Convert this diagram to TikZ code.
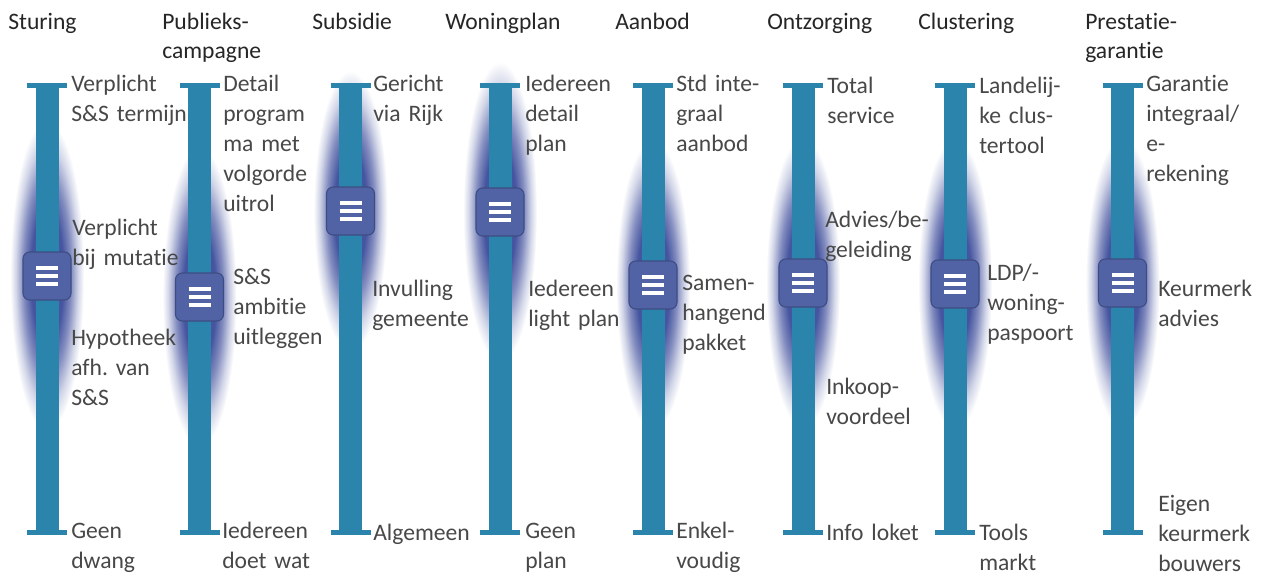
\documentclass[tikz,border=0pt]{standalone}
\usepackage{fontspec}
\setmainfont{Carlito}[Ligatures={NoCommon}]
\frenchspacing
\definecolor{barc}{RGB}{43,132,172}
\definecolor{knobc}{RGB}{81,99,165}
\definecolor{knobd}{RGB}{62,76,132}
\definecolor{glowc}{RGB}{70,85,160}
\definecolor{titlec}{RGB}{38,38,38}
\definecolor{lblc}{RGB}{72,72,72}
\pgfdeclareradialshading{glowshade}{\pgfpoint{0bp}{0bp}}{color(0bp)=(glowc); color(11bp)=(glowc); color(16bp)=(glowc!68!white); color(21bp)=(glowc!25!white); color(25bp)=(white); color(50bp)=(white)}
\tikzset{
  knob/.style={rectangle, rounded corners=5pt, minimum size=36pt, inner sep=0pt, fill=knobc, draw=knobd, line width=0.8pt},
  knobline/.style={draw=white, line width=2.4pt},
  ttl/.style={anchor=base west, inner sep=0pt, text width=115pt, align=left, text=titlec, font=\fontsize{17.7}{22}\selectfont},
  lbl/.style={anchor=base west, inner sep=0pt, text width=115pt, align=left, text=lblc, font=\fontsize{17.7}{22.5}\selectfont},
}
\newcommand\myslider[4]{%
  \shade[shading=glowshade] (#2,#3) ellipse [x radius=37, y radius=#4];
  \fill[barc] (#2-11.5,86) rectangle (#2+11.5,533);
  \fill[barc] (#2-20,83) rectangle (#2+20,88);
  \fill[barc] (#2-20,530) rectangle (#2+20,535);
  \node[knob] (#1) at (#2,#3) {};
  \foreach \dy in {-8,0,8} \draw[knobline] ([shift={(-11,\dy)}]#1.center) -- ([shift={(11,\dy)}]#1.center);
}
\begin{document}
\begin{tikzpicture}[x=0.75pt,y=-0.75pt]
\useasboundingbox (0,0) rectangle (1263,576);
\fill[white] (0,0) rectangle (1263,576);
% sliders
\myslider{k1}{47}{276}{155}
\myslider{k2}{199.5}{297}{150}
\myslider{k3}{350.5}{211}{140}
\myslider{k4}{500}{212}{150}
\myslider{k5}{653}{285}{145}
\myslider{k6}{803}{283}{145}
\myslider{k7}{955}{284}{145}
\myslider{k8}{1122.5}{283}{145}
% titles
\node[ttl] (t1) at (8,29) {Sturing};
\node[ttl] (t2) at (162,29) {Publieks-\\campagne};
\node[ttl] (t3) at (312,29) {Subsidie};
\node[ttl] (t4) at (445,29) {Woningplan};
\node[ttl] (t5) at (615,29) {Aanbod};
\node[ttl] (t6) at (767,29) {Ontzorging};
\node[ttl] (t7) at (918,29) {Clustering};
\node[ttl] (t8) at (1085,29) {Prestatie-\\garantie};
% labels slider 1
\node[lbl] (l1a) at (71,91) {Verplicht\\S\&S termijn};
\node[lbl] (l1b) at (72,235) {Verplicht\\bij mutatie};
\node[lbl] (l1c) at (71,345) {Hypotheek\\afh. van\\S\&S};
\node[lbl] (l1d) at (71,538) {Geen\\dwang};
% slider 2
\node[lbl] (l2a) at (223,91) {Detail\\program\\ma met\\volgorde\\uitrol};
\node[lbl] (l2b) at (233,284) {S\&S\\ambitie\\uitleggen};
\node[lbl] (l2c) at (222,538) {Iedereen\\doet wat};
% slider 3
\node[lbl] (l3a) at (373,91) {Gericht\\via Rijk};
\node[lbl] (l3b) at (372,296) {Invulling\\gemeente};
\node[lbl] (l3c) at (373,540) {Algemeen};
% slider 4
\node[lbl] (l4a) at (525,91) {Iedereen\\detail\\plan};
\node[lbl] (l4b) at (528,296) {Iedereen\\light plan};
\node[lbl] (l4c) at (525,538) {Geen\\plan};
% slider 5
\node[lbl] (l5a) at (676,91) {Std inte-\\graal\\aanbod};
\node[lbl] (l5b) at (682,290) {Samen-\\hangend\\pakket};
\node[lbl] (l5c) at (676,538) {Enkel-\\voudig};
% slider 6
\node[lbl] (l6a) at (827,93) {Total\\service};
\node[lbl] (l6b) at (825,227) {Advies/be-\\geleiding};
\node[lbl] (l6c) at (826,394) {Inkoop-\\voordeel};
\node[lbl] (l6d) at (826,540) {Info loket};
% slider 7
\node[lbl] (l7a) at (979,93) {Landelij-\\ke clus-\\tertool};
\node[lbl] (l7b) at (987,280) {LDP/-\\woning-\\paspoort};
\node[lbl] (l7c) at (979,540) {Tools\\markt};
% slider 8
\node[lbl] (l8a) at (1146,91) {Garantie\\integraal/\\e-\\rekening};
\node[lbl] (l8b) at (1158,296) {Keurmerk\\advies};
\node[lbl] (l8c) at (1158,511) {Eigen\\keurmerk\\bouwers};
\end{tikzpicture}
\end{document}
